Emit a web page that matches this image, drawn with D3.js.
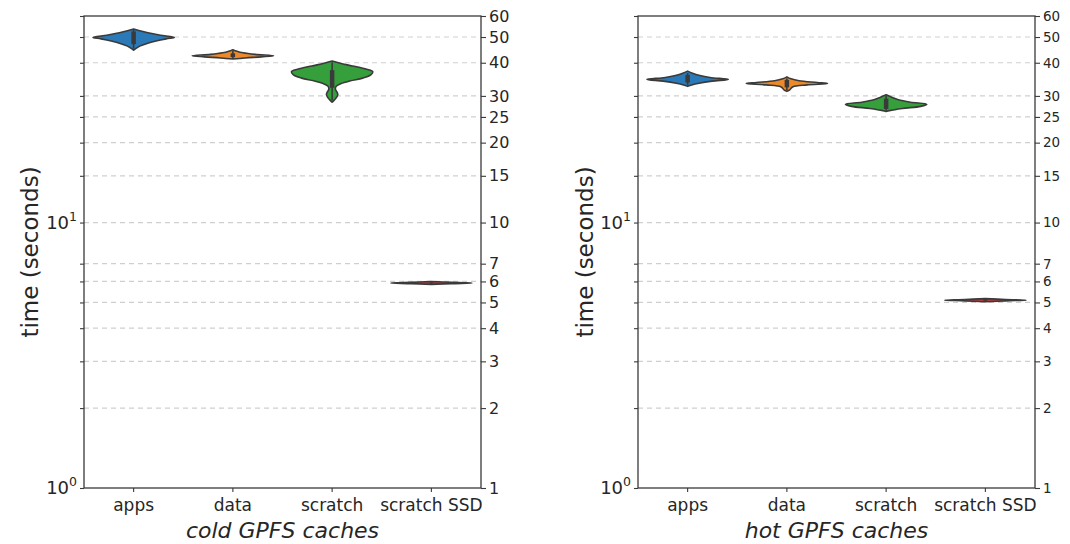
<!DOCTYPE html>
<meta charset="utf-8">
<script src="https://d3js.org/d3.v7.min.js"></script>
<style>
  body { margin: 0; background: #fff; }
  text { font-family: "DejaVu Sans", sans-serif; fill: #262626; }
</style>
<body>
<svg width="1070" height="544"></svg>
<script>
    // categories and tick values
    const categories = ['apps', 'data', 'scratch', 'scratch SSD']
    const colors = ['#2b79b6', '#ec892b', '#35a03b', '#c03d3e']
    const gridValues = [2, 3, 4, 5, 6, 7, 10, 15, 20, 25, 30, 40, 50]
    const rightTicks = [1, 2, 3, 4, 5, 6, 7, 10, 15, 20, 25, 30, 40, 50, 60]

    // violin outlines: [seconds, relative density]
    const coldProfiles = [
        [[53.6,0],[52.8,0.15],[51.9,0.35],[51,0.6],[50.2,0.9],[49.8,1],[49.2,0.8],[48.3,0.55],[47.3,0.33],[46.2,0.15],[45.2,0.05],[44.6,0]],
        [[44.8,0],[44.2,0.1],[43.6,0.25],[43,0.55],[42.5,1],[42.1,0.7],[41.7,0.3],[41.3,0]],
        [[40.6,0],[39.8,0.2],[38.9,0.5],[37.8,0.85],[37,1],[36,0.95],[35,0.75],[34.2,0.45],[33.4,0.22],[32.6,0.1],[31.8,0.08],[31,0.12],[30.3,0.14],[29.5,0.1],[28.8,0.04],[28.4,0]],
        [[6.0,0],[5.95,0.5],[5.92,1],[5.89,0.5],[5.85,0]]
    ]
    const hotProfiles = [
        [[37.2,0],[36.5,0.12],[35.8,0.3],[35.2,0.55],[34.6,1],[34.1,0.6],[33.5,0.28],[33,0.1],[32.6,0]],
        [[35.4,0],[34.8,0.1],[34.2,0.3],[33.7,0.75],[33.4,1],[33.0,0.5],[32.5,0.15],[32,0.1],[31.6,0.07],[31.2,0]],
        [[30.3,0],[29.6,0.15],[29,0.3],[28.4,0.6],[27.9,1],[27.4,0.85],[26.9,0.4],[26.4,0.08],[26.2,0]],
        [[5.17,0],[5.13,0.5],[5.1,1],[5.07,0.5],[5.03,0]]
    ]
    // inner boxes: [whisker low, q1, median, q3, whisker high]
    const coldBoxes = [[45.2,47,50,52.5,53.3],[41.4,42,42.6,43.4,44.4],[28.8,32.2,35,37.5,40.2],[5.87,5.9,5.92,5.94,5.97]]
    const hotBoxes = [[33,33.7,34.8,36,36.6],[31.5,32.3,33.4,34.5,35],[26.4,26.8,27.9,29.3,30],[5.05,5.08,5.1,5.12,5.15]]

    const panels = [
        {left: 84, right: 481, title: 'cold GPFS caches', labelX: 38, rightFont: 16, profiles: coldProfiles, boxes: coldBoxes},
        {left: 638, right: 1035, title: 'hot GPFS caches', labelX: 593, rightFont: 13.5, profiles: hotProfiles, boxes: hotBoxes}
    ]
    const yTop = 16, yBottom = 488, ink = '#3a3a3a'

    let svg = d3.select('svg')

    panels.forEach(p => {
        let g = svg.append('g')
        let x = d3.scaleBand().domain(categories).range([p.left, p.right])
        let y = d3.scaleLog().domain([1, 60]).range([yBottom, yTop])

        // dashed grid
        g.selectAll('line.grid').data(gridValues).enter().append('line')
            .attr('x1', p.left).attr('x2', p.right)
            .attr('y1', d => y(d)).attr('y2', d => y(d))
            .attr('stroke', '#cfcfcf').attr('stroke-width', 1.2)
            .attr('stroke-dasharray', '5,4')

        // violins
        let half = x.bandwidth() * 0.41
        categories.forEach((c, i) => {
            let cx = x(c) + x.bandwidth() / 2
            let area = d3.area()
                .y(d => y(d[0]))
                .x0(d => cx - d[1] * half)
                .x1(d => cx + d[1] * half)
                .curve(d3.curveCatmullRom)
            g.append('path').datum(p.profiles[i])
                .attr('d', area)
                .attr('fill', colors[i])
                .attr('stroke', ink).attr('stroke-width', 1.6)
                .attr('stroke-linejoin', 'round')
            let b = p.boxes[i]
            g.append('line')
                .attr('x1', cx).attr('x2', cx)
                .attr('y1', y(b[0])).attr('y2', y(b[4]))
                .attr('stroke', ink).attr('stroke-width', 1.6)
            g.append('line')
                .attr('x1', cx).attr('x2', cx)
                .attr('y1', y(b[1])).attr('y2', y(b[3]))
                .attr('stroke', ink).attr('stroke-width', 4.5)
        })

        // left axis: ticks at grid values, labels at decades
        let leftAxis = d3.axisLeft(y).tickValues(rightTicks).tickSize(4).tickFormat('')
        g.append('g').attr('transform', `translate(${p.left},0)`).call(leftAxis)
        ;[[1, '0'], [10, '1']].forEach(([v, e]) => {
            let t = g.append('text')
                .attr('x', p.left - 7).attr('y', y(v) + 6)
                .attr('text-anchor', 'end').style('font-size', '18px')
            t.append('tspan').text('10')
            t.append('tspan').text(e).attr('dy', -8).style('font-size', '12.5px')
        })

        // right axis
        let rightAxis = d3.axisRight(y).tickValues(rightTicks).tickSize(5).tickPadding(3).tickFormat(d3.format('d'))
        let ra = g.append('g').attr('transform', `translate(${p.right},0)`).call(rightAxis)
        ra.selectAll('text').style('font-size', p.rightFont + 'px').attr('fill', '#262626')

        // bottom axis
        let bottomAxis = d3.axisBottom(x).tickSize(4).tickPadding(7)
        let ba = g.append('g').attr('transform', `translate(0,${yBottom})`).call(bottomAxis)
        ba.selectAll('text').style('font-size', '17px').attr('fill', '#262626')

        g.selectAll('.domain').remove()
        g.selectAll('.tick line').attr('stroke', ink).attr('stroke-width', 1.1)

        // frame
        g.append('rect')
            .attr('x', p.left).attr('y', yTop)
            .attr('width', p.right - p.left).attr('height', yBottom - yTop)
            .attr('fill', 'none').attr('stroke', ink).attr('stroke-width', 1.3)

        g.append('text')
            .attr('transform', `translate(${p.labelX},${(yTop + yBottom) / 2}) rotate(-90)`)
            .attr('text-anchor', 'middle').style('font-size', '23px')
            .text('time (seconds)')

        g.append('text')
            .attr('x', (p.left + p.right) / 2).attr('y', 538)
            .attr('text-anchor', 'middle').style('font-size', '22px').style('font-style', 'italic')
            .text(p.title)
    })
</script>
</body>
